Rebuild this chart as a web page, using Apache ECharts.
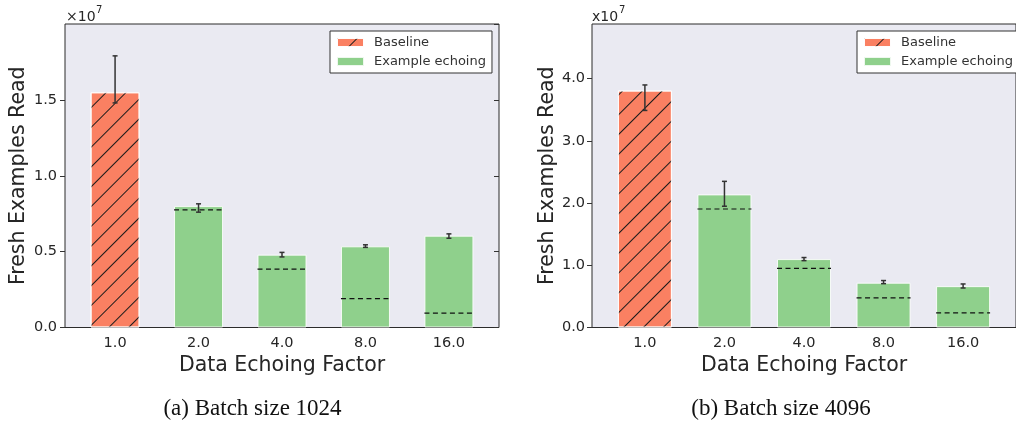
<!DOCTYPE html>
<html>
<head>
<meta charset="utf-8">
<script src="https://cdn.jsdelivr.net/npm/echarts@6/dist/echarts.min.js"></script>
<style>html,body{margin:0;padding:0;background:#fff;}#c{width:1016px;height:421px;}</style>
</head>
<body>
<div id="c"></div>
<script>
// ---- data (values in units of 1e7) ----
const categories = ['1.0', '2.0', '4.0', '8.0', '16.0'];
const yStepA = 0.5, yMaxA = 2.0, yLastLabelA = 1.5;
const yStepB = 1, yMaxB = 4.88, yLastLabelB = 4;

// (a) Batch size 1024
const baselineA = [1.55];
const echoA = [0.80, 0.48, 0.535, 0.605];
const errLowA = [1.48, 0.76, 0.465, 0.528, 0.588];
const errHighA = [1.79, 0.815, 0.495, 0.545, 0.617];
const idealA = [0.775, 0.385, 0.19, 0.095];

// (b) Batch size 4096
const baselineB = [3.81];
const echoB = [2.14, 1.10, 0.72, 0.665];
const errLowB = [3.49, 1.95, 1.075, 0.705, 0.635];
const errHighB = [3.90, 2.35, 1.125, 0.755, 0.70];
const idealB = [1.905, 0.95, 0.475, 0.235];

// ---- styling ----
const FONT = 'DejaVu Sans';
const TXT = '#262626';
const ORANGE = '#FA8062';
const GREEN = '#8FD08C';
const hatch = {
  symbol: 'rect', symbolSize: 1,
  dashArrayX: [1, 0], dashArrayY: [0.9, 12.5],
  rotation: -Math.PI / 4, color: '#1a1a1a'
};

function baselineData(arr) { return arr.map((v, i) => [i, v]); }
function echoData(arr) { return arr.map((v, i) => [i + 1, v]); }
function errData(lo, hi) { return lo.map((v, i) => [i, v, hi[i]]); }

function errSeries(xi, yi, lo, hi) {
  return {
    type: 'custom', xAxisIndex: xi, yAxisIndex: yi, z: 6,
    data: errData(lo, hi),
    encode: { x: 0, y: [1, 2] },
    renderItem(params, api) {
      const x = api.value(0);
      const a = api.coord([x, api.value(1)]);
      const b = api.coord([x, api.value(2)]);
      const c = 2.5;
      const st = { stroke: '#333', lineWidth: 1.5 };
      return { type: 'group', children: [
        { type: 'line', shape: { x1: a[0], y1: a[1], x2: b[0], y2: b[1] }, style: st },
        { type: 'line', shape: { x1: a[0] - c, y1: a[1], x2: a[0] + c, y2: a[1] }, style: st },
        { type: 'line', shape: { x1: b[0] - c, y1: b[1], x2: b[0] + c, y2: b[1] }, style: st }
      ]};
    }
  };
}
function idealSeries(xi, yi, arr, barPx) {
  return {
    type: 'custom', xAxisIndex: xi, yAxisIndex: yi, z: 5,
    data: echoData(arr),
    encode: { x: 0, y: 1 },
    renderItem(params, api) {
      const p = api.coord([api.value(0), api.value(1)]);
      const h = barPx / 2;
      return { type: 'line', shape: { x1: p[0] - h, y1: p[1], x2: p[0] + h, y2: p[1] },
        style: { stroke: '#111', lineWidth: 1.2, lineDash: [5, 3.5] } };
    }
  };
}
function barSeries(name, xi, yi, data, color, barPx, decal) {
  return {
    name, type: 'bar', xAxisIndex: xi, yAxisIndex: yi, data,
    barWidth: barPx, barGap: '-100%', z: 2,
    itemStyle: { color, borderColor: 'rgba(255,255,255,0.85)', borderWidth: 1, decal: decal || null },
    emphasis: { disabled: true }
  };
}
function xAxis(gi, min, max) {
  return {
    type: 'value', gridIndex: gi, min, max,
    axisLine: { show: false, onZero: false }, axisTick: { show: false }, splitLine: { show: false },
    axisLabel: { customValues: [0, 1, 2, 3, 4], formatter: v => categories[Math.round(v)],
      fontFamily: FONT, fontSize: 14.5, color: TXT, margin: 8 },
    name: 'Data Echoing Factor', nameLocation: 'middle', nameGap: 26,
    nameTextStyle: { fontFamily: FONT, fontSize: 20.5, color: TXT }
  };
}
function yAxisL(gi, max, step, last, gap, margin) {
  return {
    type: 'value', gridIndex: gi, min: 0, max, interval: step, position: 'left',
    axisLine: { show: false, onZero: false }, splitLine: { show: false },
    axisTick: { show: true, length: 5, lineStyle: { color: '#333' } },
    axisLabel: { formatter: v => (v <= last + 1e-9 ? v.toFixed(1) : ''), showMaxLabel: false,
      fontFamily: FONT, fontSize: 14.5, color: TXT, margin },
    name: 'Fresh Examples Read', nameLocation: 'middle', nameGap: gap,
    nameTextStyle: { fontFamily: FONT, fontSize: 20.5, color: TXT }
  };
}
function yAxisR(gi, max, step) {
  return {
    type: 'value', gridIndex: gi, min: 0, max, interval: step, position: 'right',
    axisLine: { show: false, onZero: false }, splitLine: { show: false }, axisLabel: { show: false },
    axisTick: { show: true, inside: true, length: 5, lineStyle: { color: '#333' } }
  };
}
function legend(left) {
  return {
    left, top: 31, orient: 'vertical', data: ['Baseline', 'Example echoing'],
    icon: 'rect', itemWidth: 27, itemHeight: 9, itemGap: 4,
    padding: [4, 6, 4, 6], backgroundColor: '#fff', borderColor: '#333', borderWidth: 1, borderRadius: 0,
    textStyle: { fontFamily: FONT, fontSize: 13, color: '#333', lineHeight: 15, padding: [0, 0, 0, 5] },
    selectedMode: false
  };
}

const chart = echarts.init(document.getElementById('c'), null, { renderer: 'canvas' });
chart.setOption({
  animation: false,
  backgroundColor: '#fff',
  grid: [
    { left: 65, top: 24, width: 434, height: 303.5, show: true, backgroundColor: '#EAEAF2', borderColor: '#2b2b2b', borderWidth: 1 },
    { left: 592, top: 24, width: 432, height: 303.5, show: true, backgroundColor: '#EAEAF2', borderColor: '#2b2b2b', borderWidth: 1 }
  ],
  xAxis: [ xAxis(0, -0.6, 4.6), xAxis(1, -0.665, 4.665) ],
  yAxis: [
    yAxisL(0, yMaxA, yStepA, yLastLabelA, 36, 8),
    yAxisR(0, yMaxA, yStepA),
    yAxisL(1, yMaxB, yStepB, yLastLabelB, 33, 7)
  ],
  legend: [ legend(330), legend(857) ],
  series: [
    barSeries('Baseline', 0, 0, baselineData(baselineA), ORANGE, 49, hatch),
    barSeries('Example echoing', 0, 0, echoData(echoA), GREEN, 49),
    idealSeries(0, 0, idealA, 49),
    errSeries(0, 0, errLowA, errHighA),
    barSeries('Baseline', 1, 2, baselineData(baselineB), ORANGE, 54, hatch),
    barSeries('Example echoing', 1, 2, echoData(echoB), GREEN, 54),
    idealSeries(1, 2, idealB, 54),
    errSeries(1, 2, errLowB, errHighB)
  ],
  graphic: [
    { type: 'text', left: 66, top: 10, style: { text: '×10', font: '14px "DejaVu Sans"', fill: TXT } },
    { type: 'text', left: 96, top: 5, style: { text: '7', font: '10px "DejaVu Sans"', fill: TXT } },
    { type: 'text', left: 592, top: 10, style: { text: 'x10', font: '14px "DejaVu Sans"', fill: TXT } },
    { type: 'text', left: 619, top: 5, style: { text: '7', font: '10px "DejaVu Sans"', fill: TXT } },
    { type: 'text', x: 252.5, y: 409, style: { text: '(a) Batch size 1024', font: '23px "Liberation Serif"', fill: '#111', align: 'center', verticalAlign: 'middle' } },
    { type: 'text', x: 781, y: 409, style: { text: '(b) Batch size 4096', font: '23px "Liberation Serif"', fill: '#111', align: 'center', verticalAlign: 'middle' } }
  ]
});
</script>
</body>
</html>
